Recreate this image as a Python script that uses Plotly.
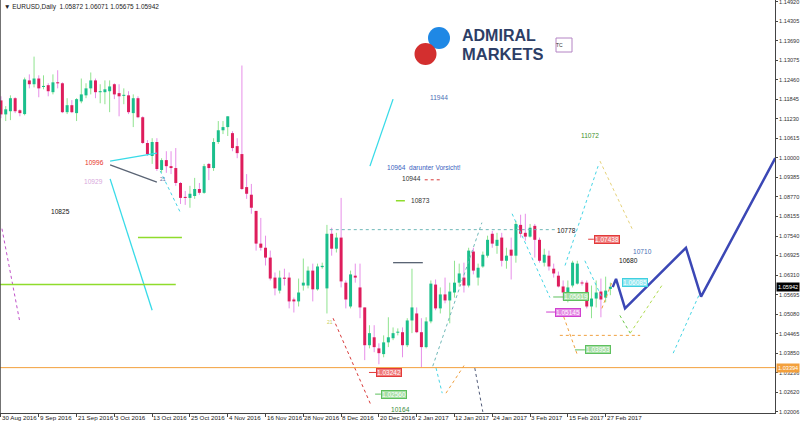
import plotly.graph_objects as go

# ---------------- data ----------------
tick_idx = [0, 8, 16, 24, 32, 40, 48, 56, 64, 72, 80, 88, 96, 104, 112, 120, 128]
tick_labels = ["30 Aug 2016", "9 Sep 2016", "21 Sep 2016", "3 Oct 2016", "13 Oct 2016",
               "25 Oct 2016", "4 Nov 2016", "16 Nov 2016", "28 Nov 2016", "8 Dec 2016",
               "20 Dec 2016", "2 Jan 2017", "12 Jan 2017", "24 Jan 2017", "3 Feb 2017",
               "15 Feb 2017", "27 Feb 2017"]

opens = [1.1181, 1.1137, 1.1147, 1.1188, 1.1150, 1.1138, 1.1244, 1.1232, 1.1250, 1.1224,
         1.1229, 1.1207, 1.1238, 1.1235, 1.1144, 1.1166, 1.1141, 1.1178, 1.1197, 1.1219,
         1.1244, 1.1207, 1.1207, 1.1210, 1.1232, 1.1204, 1.1196, 1.1197, 1.1141, 1.1188,
         1.1128, 1.1047, 1.1006, 1.1050, 1.0962, 1.0993, 1.0974, 1.0968, 1.0921, 1.0877,
         1.0874, 1.0880, 1.0902, 1.0890, 1.0981, 1.0968, 1.1050, 1.1087, 1.1097, 1.1078,
         1.1037, 1.1012, 1.0908, 1.0884, 1.0833, 1.0730, 1.0717, 1.0686, 1.0623, 1.0582,
         1.0622, 1.0623, 1.0554, 1.0548, 1.0598, 1.0598, 1.0645, 1.0586, 1.0656, 1.0589,
         1.0761, 1.0714, 1.0749, 1.0607, 1.0532, 1.0629, 1.0592, 1.0529, 1.0410, 1.0435,
         1.0400, 1.0382, 1.0419, 1.0432, 1.0450, 1.0451, 1.0410, 1.0488, 1.0510, 1.0451,
         1.0404, 1.0485, 1.0601, 1.0526, 1.0570, 1.0551, 1.0576, 1.0607, 1.0623, 1.0598,
         1.0705, 1.0623, 1.0658, 1.0692, 1.0761, 1.0723, 1.0749, 1.0676, 1.0711, 1.0692,
         1.0789, 1.0764, 1.0752, 1.0786, 1.0742, 1.0670, 1.0692, 1.0651, 1.0629, 1.0595,
         1.0576, 1.0598, 1.0604, 1.0607, 1.0607, 1.0532, 1.0557, 1.0579, 1.0560, 1.05872]
highs = [1.1194, 1.1163, 1.1197, 1.1191, 1.1153, 1.1253, 1.1263, 1.1319, 1.1260, 1.1260,
         1.1235, 1.1263, 1.1276, 1.1238, 1.1188, 1.1182, 1.1188, 1.1250, 1.1235, 1.1269,
         1.1250, 1.1232, 1.1244, 1.1244, 1.1235, 1.1232, 1.1219, 1.1210, 1.1200, 1.1194,
         1.1131, 1.1056, 1.1062, 1.1062, 1.0999, 1.1021, 1.1021, 1.1031, 1.0924, 1.0896,
         1.0912, 1.0937, 1.0921, 1.0981, 1.0984, 1.1062, 1.1116, 1.1116, 1.1131, 1.1084,
         1.1062, 1.1291, 1.0949, 1.0918, 1.0833, 1.0811, 1.0755, 1.0708, 1.0639, 1.0645,
         1.0651, 1.0639, 1.0560, 1.0620, 1.0683, 1.0658, 1.0667, 1.0667, 1.0670, 1.0789,
         1.0780, 1.0764, 1.0874, 1.0614, 1.0645, 1.0667, 1.0667, 1.0529, 1.0473, 1.0473,
         1.0416, 1.0441, 1.0498, 1.0466, 1.0463, 1.0466, 1.0495, 1.0651, 1.0529, 1.0495,
         1.0498, 1.0614, 1.0617, 1.0592, 1.0623, 1.0607, 1.0676, 1.0667, 1.0670, 1.0717,
         1.0717, 1.0667, 1.0705, 1.0755, 1.0770, 1.0764, 1.0764, 1.0717, 1.0749, 1.0802,
         1.0821, 1.0824, 1.0792, 1.0792, 1.0749, 1.0714, 1.0708, 1.0667, 1.0642, 1.0614,
         1.0614, 1.0676, 1.0676, 1.0614, 1.0614, 1.0598, 1.0614, 1.0620, 1.0626, 1.06071]
lows = [1.1125, 1.1116, 1.1119, 1.1141, 1.1131, 1.1134, 1.1219, 1.1222, 1.1191, 1.1216,
        1.1194, 1.1200, 1.1219, 1.1141, 1.1138, 1.1141, 1.1116, 1.1172, 1.1188, 1.1200,
        1.1188, 1.1172, 1.1169, 1.1144, 1.1185, 1.1131, 1.1169, 1.1138, 1.1097, 1.1125,
        1.1044, 1.1006, 1.0981, 1.0959, 1.0953, 1.0953, 1.0949, 1.0912, 1.0855, 1.0852,
        1.0843, 1.0871, 1.0884, 1.0887, 1.0930, 1.0959, 1.1044, 1.1075, 1.1069, 1.1021,
        1.0999, 1.0899, 1.0871, 1.0824, 1.0708, 1.0708, 1.0661, 1.0614, 1.0567, 1.0573,
        1.0598, 1.0526, 1.0513, 1.0532, 1.0582, 1.0589, 1.0548, 1.0582, 1.0651, 1.0510,
        1.0692, 1.0702, 1.0592, 1.0526, 1.0526, 1.0607, 1.0495, 1.0363, 1.0400, 1.0388,
        1.0350, 1.0372, 1.0404, 1.0426, 1.0441, 1.0372, 1.0404, 1.0448, 1.0448, 1.0341,
        1.0400, 1.0479, 1.0520, 1.0510, 1.0542, 1.0479, 1.0560, 1.0595, 1.0576, 1.0592,
        1.0633, 1.0598, 1.0654, 1.0686, 1.0717, 1.0698, 1.0658, 1.0651, 1.0617, 1.0670,
        1.0749, 1.0739, 1.0749, 1.0686, 1.0670, 1.0658, 1.0645, 1.0623, 1.0592, 1.0551,
        1.0545, 1.0592, 1.0601, 1.0598, 1.0526, 1.0495, 1.0529, 1.0498, 1.0545, 1.05675]
closes = [1.1137, 1.1153, 1.1188, 1.1147, 1.1141, 1.1247, 1.1232, 1.1250, 1.1219, 1.1226,
          1.1210, 1.1238, 1.1235, 1.1144, 1.1166, 1.1144, 1.1185, 1.1200, 1.1219, 1.1244,
          1.1207, 1.1210, 1.1216, 1.1225, 1.1200, 1.1194, 1.1198, 1.1144, 1.1188, 1.1128,
          1.1047, 1.1012, 1.1050, 1.0965, 1.0993, 1.0974, 1.0968, 1.0921, 1.0874, 1.0874,
          1.0887, 1.0902, 1.0890, 1.0974, 1.0968, 1.1050, 1.1087, 1.1097, 1.1131, 1.1031,
          1.1015, 1.0902, 1.0887, 1.0843, 1.0730, 1.0717, 1.0686, 1.0620, 1.0589, 1.0623,
          1.0620, 1.0548, 1.0548, 1.0576, 1.0607, 1.0645, 1.0586, 1.0658, 1.0660, 1.0761,
          1.0714, 1.0749, 1.0611, 1.0554, 1.0633, 1.0623, 1.0529, 1.0410, 1.0448, 1.0404,
          1.0385, 1.0419, 1.0435, 1.0448, 1.0452, 1.0410, 1.0488, 1.0529, 1.0451, 1.0404,
          1.0485, 1.0604, 1.0526, 1.0570, 1.0551, 1.0579, 1.0607, 1.0636, 1.0598, 1.0708,
          1.0645, 1.0654, 1.0695, 1.0742, 1.0730, 1.0742, 1.0676, 1.0692, 1.0692, 1.0792,
          1.0761, 1.0752, 1.0780, 1.0742, 1.0676, 1.0695, 1.0658, 1.0636, 1.0595, 1.0576,
          1.0592, 1.0670, 1.0667, 1.0605, 1.0532, 1.0557, 1.0576, 1.0554, 1.0582, 1.05942]

ytick_vals = [1.14920, 1.14305, 1.13690, 1.13075, 1.12460, 1.11845, 1.11230, 1.10615,
              1.10000, 1.09385, 1.08770, 1.08155, 1.07540, 1.06925, 1.06310, 1.05695,
              1.05080, 1.04465, 1.03850, 1.03236, 1.02620, 1.02006]

last_price = 1.05942
orange_level = 1.03394

# projection (thick blue zig-zag)
proj_idx = [129.5, 130.2, 132.1, 145.0, 148.2, 163.9]
proj_price = [1.0593, 1.0619, 1.0526, 1.0717, 1.0563, 1.0999]

# solid trend lines: x0, p0, x1, p1
solid_cyan = [(23.1, 1.0990, 33.0, 1.1015), (23.1, 1.0934, 32.0, 1.0520), (78.1, 1.0974, 83.0, 1.1185)]
solid_gray = [(23.1, 1.0978, 33.0, 1.0924), (83.0, 1.0670, 89.3, 1.0670)]
lime_levels = [(29.0, 1.0749, 38.3, 1.0749), (-0.3, 1.0601, 37.0, 1.0601), (83.6, 1.0865, 85.5, 1.0865)]

# dotted lines: x0, p0, x1, p1, colour key
dotted_lines = [
    (0.2, 1.0777, 4.0, 1.0482, "violet"),
    (33.7, 1.0959, 38.1, 1.0824, "cyan"),
    (70.3, 1.0495, 78.3, 1.0222, "red"),
    (92.1, 1.0338, 93.4, 1.0259, "cyan"),
    (94.2, 1.0259, 98.2, 1.0350, "orange"),
    (100.3, 1.0338, 102.0, 1.0200, "slate"),
    (91.4, 1.0344, 101.8, 1.0796, "teal"),
    (108.2, 1.0824, 116.2, 1.0560, "cyan"),
    (119.4, 1.0661, 126.4, 1.0974, "cyan"),
    (126.8, 1.0990, 133.6, 1.0777, "khaki"),
    (123.6, 1.0676, 127.2, 1.0560, "cyan"),
    (127.2, 1.0526, 129.3, 1.0607, "orange"),
    (118.7, 1.0517, 122.1, 1.0376, "orange"),
    (131.0, 1.0504, 133.2, 1.0448, "green"),
    (133.2, 1.0448, 139.9, 1.0598, "lime"),
    (142.3, 1.0385, 148.0, 1.0576, "cyan"),
    (69.6, 1.0774, 117.3, 1.0774, "teal"),
    (118.3, 1.0441, 135.3, 1.0441, "orange"),
    (89.7, 1.0931, 92.9, 1.0931, "red"),
]

# text notes: x (left edge), price, text, colour
notes = [
    (17.4, 1.0987, "10996", "#e8332a"),
    (17.1, 1.0927, "10929", "#d8a8dc"),
    (10.2, 1.0830, "10825", "#111111"),
    (90.4, 1.1191, "11944", "#4a6fb5"),
    (81.3, 1.0971, "10964\u00a0\u00a0darunter Vorsicht!", "#3a62c0"),
    (84.5, 1.0934, "10944", "#333333"),
    (86.4, 1.0865, "10873", "#333333"),
    (122.4, 1.1069, "11072", "#3f8f2a"),
    (117.3, 1.0771, "10778", "#111111"),
    (133.4, 1.0705, "10710", "#4a6fb5"),
    (130.4, 1.0676, "10680", "#111111"),
    (82.1, 1.0209, "10164", "#3a8a3a"),
    (33.2, 1.0934, "21", "#6070a0"),
    (68.6, 1.0482, "21", "#c8d060"),
]

# price labels: leader start, box left, price, colour key
price_tags = [
    (124.3, 125.5, 1.07438, "red"),
    (131.4, 131.4, 1.06085, "cyan"),
    (116.9, 119.0, 1.05619, "green"),
    (115.4, 117.3, 1.05145, "magenta"),
    (121.5, 123.6, 1.03953, "green"),
    (77.9, 79.4, 1.03242, "red"),
    (79.2, 80.4, 1.02560, "green"),
]

# ---------------- styles ----------------
dot_colors = {"violet": "#c050c8", "cyan": "#45d5e5", "red": "#d83a3a", "orange": "#f0a040",
              "slate": "#505a78", "teal": "#6fb8b8", "khaki": "#e6d27a", "green": "#6cc84a",
              "lime": "#b0dc50"}
tag_border = {"red": "#e23a3a", "cyan": "#3fd0e0", "green": "#5ec05e", "magenta": "#d040d0"}
tag_fill = {"red": "#f07a7a", "cyan": "#8fe6f0", "green": "#a6dea6", "magenta": "#e488e4"}

BULL_BODY = "#1bbf8c"
BEAR_BODY = "#de1d5c"
BULL_WICK = "#8fe38f"
BEAR_WICK = "#e78ee8"
FONT = "Liberation Sans"

fig = go.Figure()

n = len(opens)
idx = list(range(n))


def seg_lines(sel, lo, hi, pad=0.0):
    xs, ys = [], []
    for i in sel:
        a, b = lo[i], hi[i]
        if pad and abs(b - a) < pad * 2:
            m = (a + b) / 2
            a, b = m - pad, m + pad
        xs += [i, i, None]
        ys += [a, b, None]
    return xs, ys


bull = [i for i in idx if closes[i] >= opens[i]]
bear = [i for i in idx if closes[i] < opens[i]]

# wicks
for sel, col in ((bull, BULL_WICK), (bear, BEAR_WICK)):
    xs, ys = seg_lines(sel, lows, highs)
    fig.add_trace(go.Scatter(x=xs, y=ys, mode="lines", line=dict(color=col, width=1),
                             hoverinfo="skip"))

# bodies
body_lo = [min(o, c) for o, c in zip(opens, closes)]
body_hi = [max(o, c) for o, c in zip(opens, closes)]
for sel, col in ((bull, BULL_BODY), (bear, BEAR_BODY)):
    xs, ys = seg_lines(sel, body_lo, body_hi, pad=0.00017)
    fig.add_trace(go.Scatter(x=xs, y=ys, mode="lines", line=dict(color=col, width=3),
                             hoverinfo="skip"))

# orange horizontal level
fig.add_hline(y=orange_level, line=dict(color="#f3a03c", width=1))

# dotted lines
for x0, p0, x1, p1, ck in dotted_lines:
    fig.add_trace(go.Scatter(x=[x0, x1], y=[p0, p1], mode="lines",
                             line=dict(color=dot_colors[ck], width=1, dash="dot"), hoverinfo="skip"))

# solid lines
for x0, p0, x1, p1 in solid_cyan:
    fig.add_trace(go.Scatter(x=[x0, x1], y=[p0, p1], mode="lines",
                             line=dict(color="#38dbe8", width=1.3), hoverinfo="skip"))
for x0, p0, x1, p1 in solid_gray:
    fig.add_trace(go.Scatter(x=[x0, x1], y=[p0, p1], mode="lines",
                             line=dict(color="#5a6474", width=1.3), hoverinfo="skip"))
for x0, p0, x1, p1 in lime_levels:
    fig.add_trace(go.Scatter(x=[x0, x1], y=[p0, p1], mode="lines",
                             line=dict(color="#8fdc2c", width=1.5), hoverinfo="skip"))

# projection
fig.add_trace(go.Scatter(x=proj_idx, y=proj_price, mode="lines",
                         line=dict(color="#3b47b5", width=2.5), hoverinfo="skip"))

# price tags with leader lines
for x0, xb, p, ck in price_tags:
    if xb > x0:
        fig.add_trace(go.Scatter(x=[x0, xb], y=[p, p], mode="lines",
                                 line=dict(color=tag_border[ck], width=1), hoverinfo="skip"))
    fig.add_annotation(x=xb, y=p, xref="x", yref="y", text=f"{p:.5f}", showarrow=False,
                       xanchor="left", yanchor="middle",
                       font=dict(size=6.5, color="white", family=FONT),
                       bgcolor=tag_fill[ck], bordercolor=tag_border[ck], borderwidth=1, borderpad=0)

# notes
for x, p, t, c in notes:
    fs = 5 if t == "21" else 6.6
    fig.add_annotation(x=x, y=p, xref="x", yref="y", text=t, showarrow=False, xanchor="left",
                       yanchor="middle", font=dict(size=fs, color=c, family=FONT))

# x tick labels (left aligned at ticks)
for ti, tl in zip(tick_idx, tick_labels):
    fig.add_annotation(x=ti, y=0, xref="x", yref="paper", text=tl, showarrow=False,
                       xanchor="left", yanchor="top", xshift=0, yshift=0, borderpad=0,
                       font=dict(size=6.2, color="#222", family=FONT))

# right axis price boxes
fig.add_annotation(x=1, y=last_price, xref="paper", yref="y", text=f"{last_price:.5f}",
                   showarrow=False, xanchor="left", yanchor="middle", xshift=1,
                   font=dict(size=5.6, color="white", family=FONT),
                   bgcolor="#000000", borderpad=1)
fig.add_annotation(x=1, y=orange_level, xref="paper", yref="y", text=f"{orange_level:.5f}",
                   showarrow=False, xanchor="left", yanchor="middle", xshift=1,
                   font=dict(size=5.6, color="white", family=FONT),
                   bgcolor="#f3a03c", borderpad=1)

# header
fig.add_annotation(x=0, y=1, xref="paper", yref="paper",
                   text="\u25bc EURUSD,Daily  1.05872 1.06071 1.05675 1.05942",
                   showarrow=False, xanchor="left", yanchor="top", xshift=2, yshift=-1,
                   font=dict(size=6.5, color="#222", family=FONT))

# logo
W, H = 775.0, 413.0
fig.add_shape(type="circle", xref="paper", yref="paper", xsizemode="pixel", ysizemode="pixel",
              xanchor=439 / W, yanchor=1 - 38 / H, x0=-11, x1=11, y0=-11, y1=11,
              fillcolor="#1f88e5", line=dict(width=0))
fig.add_shape(type="circle", xref="paper", yref="paper", xsizemode="pixel", ysizemode="pixel",
              xanchor=425.5 / W, yanchor=1 - 54 / H, x0=-11, x1=11, y0=-11, y1=11,
              fillcolor="#d32f2f", line=dict(width=0))
fig.add_annotation(x=461 / W, y=1 - 35 / H, xref="paper", yref="paper", text="<b>ADMIRAL</b>",
                   showarrow=False, xanchor="left", yanchor="middle", height=15, borderpad=0,
                   font=dict(size=16, color="#2d3e66", family=FONT))
fig.add_annotation(x=461 / W, y=1 - 53 / H, xref="paper", yref="paper", text="<b>MARKETS</b>",
                   showarrow=False, xanchor="left", yanchor="middle", height=15, borderpad=0,
                   font=dict(size=16.5, color="#2d3e66", family=FONT))
fig.add_shape(type="rect", xref="paper", yref="paper", x0=556 / W, x1=572 / W,
              y0=1 - 52 / H, y1=1 - 38 / H, line=dict(color="#b484c4", width=1),
              fillcolor="white")
fig.add_annotation(x=564 / W, y=1 - 45 / H, xref="paper", yref="paper", text="TC",
                   showarrow=False, yanchor="middle", borderpad=0,
                   font=dict(size=5, color="#333", family=FONT))

# left border
fig.add_shape(type="line", xref="paper", yref="paper", x0=0, x1=0, y0=0, y1=1,
              line=dict(color="#444", width=1.5))

fig.update_layout(
    width=800, height=426, margin=dict(l=0, r=25, t=0, b=13),
    paper_bgcolor="white", plot_bgcolor="white", showlegend=False,
    xaxis=dict(range=[-0.21, 163.85], showgrid=False, zeroline=False, showline=True,
               linecolor="#444", linewidth=1, ticks="outside", ticklen=3, tickcolor="#444",
               tickvals=tick_idx, showticklabels=False, fixedrange=True),
    yaxis=dict(range=[1.01965, 1.14973], side="right", showgrid=False, zeroline=False,
               showline=True, linecolor="#444", linewidth=1, ticks="outside", ticklen=2,
               tickcolor="#444", tickvals=ytick_vals, ticklabelstandoff=0,
               ticklabeloverflow="allow",
               ticktext=[f"{v:.5f}" for v in ytick_vals],
               tickfont=dict(size=5.6, color="#333", family=FONT)),
)

fig.write_html("out.html", config={"displayModeBar": False},
               post_script="document.body.style.margin='0';document.body.style.overflow='hidden';")
